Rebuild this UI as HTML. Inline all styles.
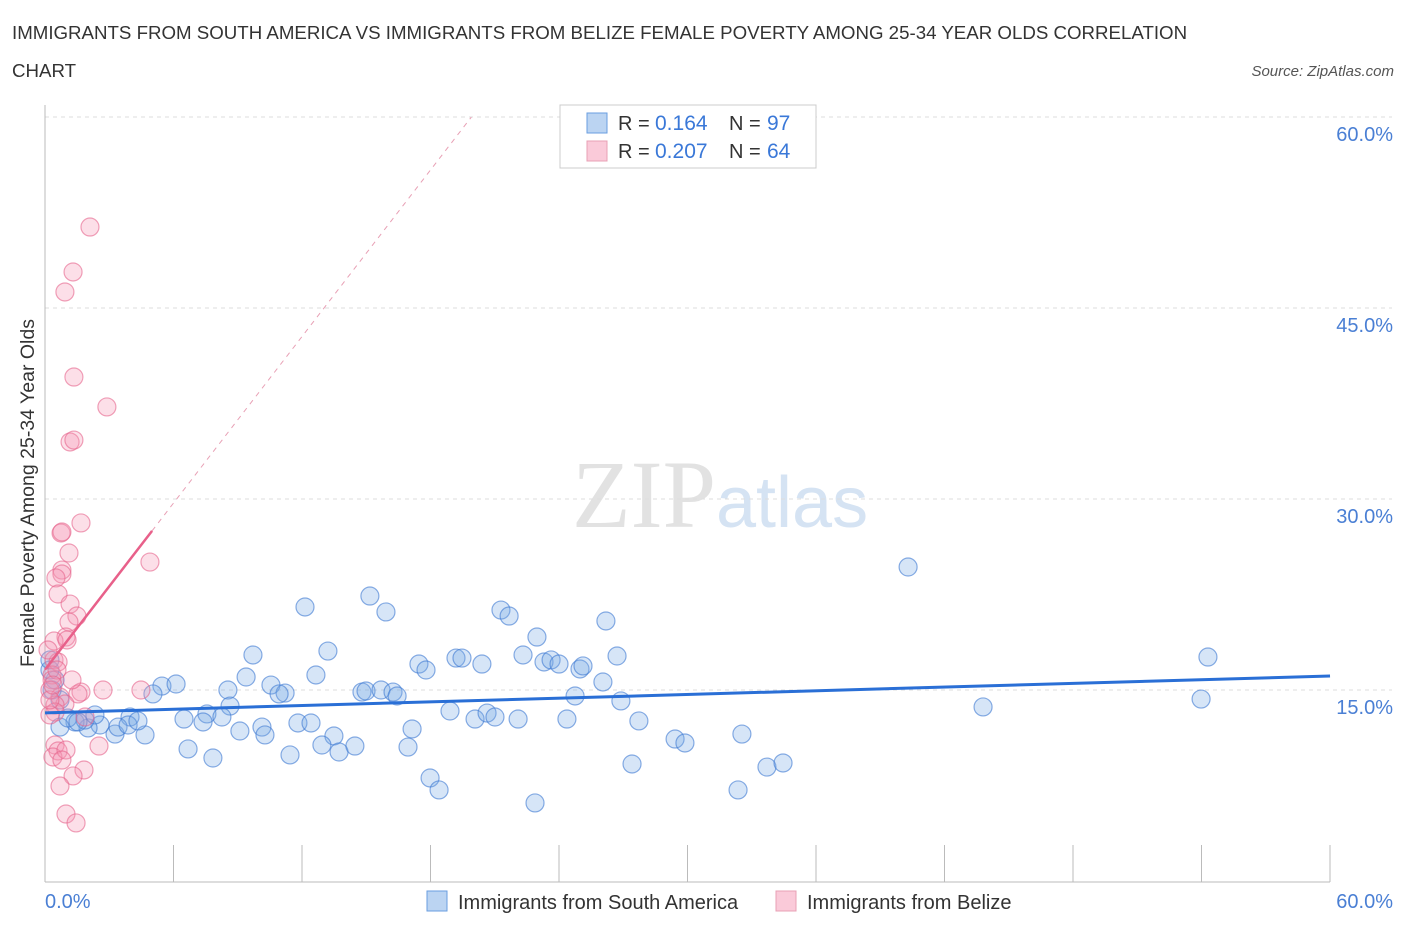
<!DOCTYPE html>
<html><head><meta charset="utf-8"><style>
body{margin:0;background:#fff;font-family:"Liberation Sans",sans-serif}
svg{display:block}
</style></head><body>
<svg id="c" width="1406" height="930"></svg>
<script>
const blueX=[],blueY=[],pinkX=[],pinkY=[];
const bluePx=[[305,607],[370,596],[386,612],[501,610],[509,616],[537,637],[606,621],[617,656],[328,651],[253,655],[419,664],[456,658],[462,658],[482,664],[523,655],[544,662],[551,660],[559,664],[580,669],[583,666],[603,682],[246,677],[162,686],[176,684],[153,694],[228,690],[271,685],[285,693],[279,694],[316,675],[362,692],[366,691],[381,690],[393,692],[397,696],[426,670],[575,696],[621,701],[230,706],[207,714],[222,717],[184,719],[203,722],[240,731],[262,727],[265,735],[298,723],[311,723],[334,736],[322,745],[339,752],[355,746],[412,729],[450,711],[475,719],[487,713],[495,717],[518,719],[567,719],[639,721],[675,739],[685,743],[742,734],[408,747],[188,749],[213,758],[290,755],[430,778],[439,790],[632,764],[767,767],[783,763],[738,790],[535,803],[908,567],[1208,657],[983,707],[1201,699],[130,717],[115,734],[145,735],[100,725],[118,727],[128,725],[138,721],[88,728],[75,722],[60,727],[68,718],[85,720],[55,680],[60,700],[50,670],[50,660],[52,690],[95,715],[78,722]];
const pinkPx=[[90,227],[73,272],[65,292],[74,377],[107,407],[70,442],[74,440],[81,523],[61,533],[62,532],[69,553],[150,562],[62,570],[62,574],[56,578],[58,594],[70,604],[77,616],[69,622],[66,637],[54,641],[67,640],[54,660],[58,662],[52,675],[52,680],[103,690],[141,690],[81,692],[78,694],[60,697],[65,704],[55,705],[55,712],[50,715],[85,717],[55,745],[58,751],[53,757],[66,750],[99,746],[62,760],[84,770],[73,776],[60,786],[66,814],[76,823],[50,690],[50,700],[48,650],[57,670],[53,685],[72,680]];
bluePx.forEach(p=>{blueX.push(+((p[0]-45)/21.417).toFixed(2));blueY.push(+((881-p[1])/12.733).toFixed(2));});
pinkPx.forEach(p=>{pinkX.push(+((p[0]-45)/21.417).toFixed(2));pinkY.push(+((881-p[1])/12.733).toFixed(2));});
const yTicks=[15,30,45,60];
const blueTrend=[13.2,16.1], pinkTrend=[16.6,27.5];
const sx=v=>45+v*21.417, sy=v=>881-v*12.733;
const svg=document.getElementById('c');const NS='http://www.w3.org/2000/svg';
function mk(t,a,txt){const e=document.createElementNS(NS,t);for(const k in a)e.setAttribute(k,a[k]);if(txt!=null)e.textContent=txt;svg.appendChild(e);return e;}
let e;
e=mk('text',{x:12,y:39,'font-size':18.7,fill:'#333'},'IMMIGRANTS FROM SOUTH AMERICA VS IMMIGRANTS FROM BELIZE FEMALE POVERTY AMONG 25-34 YEAR OLDS CORRELATION');

e=mk('text',{x:12,y:77,'font-size':18.7,fill:'#333'},'CHART');

e=mk('text',{x:1394,y:76,'font-size':15,fill:'#555','font-style':'italic','text-anchor':'end'},'Source: ZipAtlas.com');

e=mk('text',{x:716,y:527,'font-size':96,fill:'#e2e2e2','font-family':'Liberation Serif','text-anchor':'end'},'ZIP');

e=mk('text',{x:716,y:527,'font-size':72,fill:'#d5e3f3'},'atlas');

yTicks.forEach(t=>{
 e=mk('line',{x1:45,x2:1392,y1:sy(t),y2:sy(t),stroke:'#ddd','stroke-dasharray':'4,4'});
 
 e=mk('text',{x:1393,y:sy(t)+24,'font-size':20,fill:'#4a7fd4','text-anchor':'end'},t.toFixed(1)+'%');
 
});
e=mk('line',{x1:45,x2:45,y1:105,y2:882,stroke:'#bbb'});
e=mk('line',{x1:45,x2:1330,y1:882,y2:882,stroke:'#bbb'});
for(let i=1;i<=10;i++){const x=45+i*128.5;e=mk('line',{x1:x,x2:x,y1:845,y2:882,stroke:'#bbb'});}
e=mk('text',{x:45,y:908,'font-size':20,fill:'#4a7fd4'},'0.0%');
e=mk('text',{x:1393,y:908,'font-size':20,fill:'#4a7fd4','text-anchor':'end'},'60.0%');
e=mk('text',{x:34,y:493,'font-size':19.5,fill:'#333','text-anchor':'middle',transform:'rotate(-90 34 493)'},'Female Poverty Among 25-34 Year Olds');

blueX.forEach((x,i)=>{const c=mk('circle',{cx:sx(x),cy:sy(blueY[i]),r:9,fill:'rgba(120,170,230,0.3)',stroke:'rgba(60,120,210,0.6)','stroke-width':1.2});

});
pinkX.forEach((x,i)=>{const c=mk('circle',{cx:sx(x),cy:sy(pinkY[i]),r:9,fill:'rgba(245,150,180,0.3)',stroke:'rgba(230,100,140,0.6)','stroke-width':1.2});

});
e=mk('line',{x1:sx(0),y1:sy(blueTrend[0]),x2:sx(60),y2:sy(blueTrend[1]),stroke:'#2a6fd6','stroke-width':3});

const ps=(pinkTrend[1]-pinkTrend[0])/5;
e=mk('line',{x1:sx(0),y1:sy(pinkTrend[0]),x2:sx(5),y2:sy(pinkTrend[1]),stroke:'#e8608a','stroke-width':2.5});

e=mk('line',{x1:sx(5),y1:sy(pinkTrend[1]),x2:sx(5+(60-pinkTrend[1])/ps),y2:sy(60),stroke:'#e8a0b5','stroke-width':1,'stroke-dasharray':'5,5'});

e=mk('rect',{x:560,y:105,width:256,height:63,fill:'#fff',stroke:'#ccc'});
[['rgba(120,170,230,0.5)','#6a9ee0','0.164','97',123],['rgba(245,150,180,0.5)','#e8a0b5','0.207','64',151]].forEach((r,i)=>{
 e=mk('rect',{x:587,y:r[4]-10,width:20,height:20,fill:r[0],stroke:r[1]});
 e=mk('text',{x:618,y:r[4]+7,'font-size':20,fill:'#333'},'R = ');
 e=mk('text',{x:655,y:r[4]+7,'font-size':21,fill:'#3a78d8'},r[2]);
 e=mk('text',{x:729,y:r[4]+7,'font-size':20,fill:'#333'},'N = ');
 e=mk('text',{x:767,y:r[4]+7,'font-size':21,fill:'#3a78d8'},r[3]);
});
e=mk('rect',{x:427,y:891,width:20,height:20,fill:'rgba(120,170,230,0.5)',stroke:'#6a9ee0'});
e=mk('text',{x:458,y:909,'font-size':20,fill:'#333'},'Immigrants from South America');
e=mk('rect',{x:776,y:891,width:20,height:20,fill:'rgba(245,150,180,0.5)',stroke:'#e8a0b5'});
e=mk('text',{x:807,y:909,'font-size':20,fill:'#333'},'Immigrants from Belize');
</script>
</body></html>
